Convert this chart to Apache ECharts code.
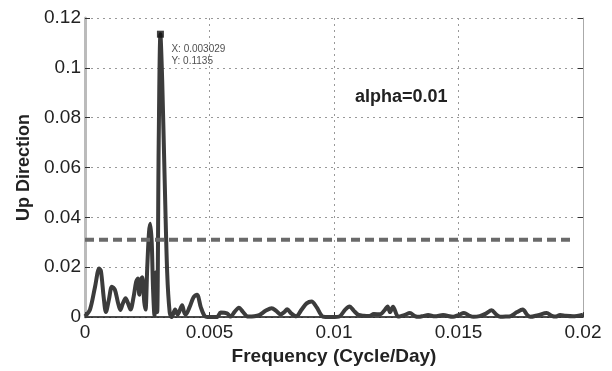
<!DOCTYPE html>
<html>
<head>
<meta charset="utf-8">
<script src="https://cdn.jsdelivr.net/npm/echarts@6/dist/echarts.min.js"></script>
<style>
html,body{margin:0;padding:0;background:#fff;}
#chart{width:612px;height:371px;}
</style>
</head>
<body>
<div id="chart"></div>
<script>
var freq = [0.00000,0.00020,0.00040,0.00057,0.00064,0.00075,0.00084,0.00096,0.00108,0.00120,
0.00132,0.00142,0.00152,0.00163,0.00173,0.00183,0.00195,0.00205,0.00212,0.00218,
0.00224,0.00230,0.00238,0.00243,0.00250,0.00257,0.00262,0.00268,0.00273,0.00279,
0.00285,0.00290,0.00296,0.003029,0.00310,0.00320,0.00330,0.00340,0.00348,0.00362,
0.00372,0.00390,0.00398,0.00404,0.00420,0.00436,0.00450,0.00465,0.00482,0.00500,
0.00530,0.00545,0.00570,0.00585,0.00600,0.00618,0.00635,0.00655,0.00680,0.00700,
0.00725,0.00750,0.00768,0.00785,0.00800,0.00812,0.00828,0.00848,0.00870,0.00890,
0.00910,0.00930,0.00955,0.00980,0.01020,0.01045,0.01062,0.01080,0.01098,0.01120,
0.01140,0.01160,0.01185,0.01205,0.01215,0.01225,0.01237,0.01258,0.01282,0.01305,
0.01325,0.01340,0.01360,0.01378,0.01405,0.01438,0.01478,0.01500,0.01522,0.01545,
0.01560,0.01585,0.01610,0.01633,0.01652,0.01668,0.01690,0.01710,0.01735,0.01758,
0.01775,0.01788,0.01820,0.01854,0.01875,0.01890,0.01908,0.01930,0.01960,0.02000];
var power = [0.0003,0.0030,0.0120,0.0195,0.0185,0.0080,0.0020,0.0070,0.0122,0.0110,
0.0060,0.0028,0.0055,0.0076,0.0055,0.0030,0.0080,0.0140,0.0155,0.0090,
0.0150,0.0160,0.0060,0.0030,0.0200,0.0340,0.0375,0.0300,0.0120,0.0005,
0.0180,0.0020,0.0700,0.1135,0.0950,0.0550,0.0180,0.0020,0.0000,0.0030,
0.0010,0.0048,0.0020,0.0010,0.0040,0.0080,0.0090,0.0040,0.0003,0.0000,
0.0000,0.0018,0.0015,0.0002,0.0020,0.0038,0.0020,0.0002,0.0003,0.0008,
0.0025,0.0036,0.0025,0.0011,0.0020,0.0031,0.0015,0.0003,0.0030,0.0055,
0.0063,0.0040,0.0002,0.0000,0.0002,0.0030,0.0043,0.0025,0.0009,0.0005,
0.0004,0.0012,0.0011,0.0030,0.0043,0.0020,0.0042,0.0002,0.0008,0.0016,
0.0004,0.0001,0.0005,0.0008,0.0003,0.0008,0.0001,0.0008,0.0016,0.0005,
0.0001,0.0004,0.0014,0.0027,0.0010,0.0001,0.0002,0.0004,0.0020,0.0030,
0.0010,0.0001,0.0008,0.0016,0.0005,0.0002,0.0008,0.0005,0.0003,0.0010];
var threshold = 0.031;
var thresholdRange = [0, 0.0196];
var peakX = 0.003029;
var peakY = 0.1135;
var xTickLabels = ['0','0.005','0.01','0.015','0.02'];
var yTickLabels = ['0','0.02','0.04','0.06','0.08','0.1','0.12'];

var curve = freq.map(function(f,i){return [f,power[i]];});
var font = '"Liberation Sans", Arial, Helvetica, sans-serif';
var chart = echarts.init(document.getElementById('chart'));
chart.setOption({
  animation:false,
  backgroundColor:'#fff',
  grid:{left:85,right:29,top:18,bottom:47},
  xAxis:{
    type:'value',min:0,max:0.02,interval:0.005,
    name:'Frequency (Cycle/Day)',nameLocation:'middle',nameGap:22,
    nameTextStyle:{fontFamily:font,fontSize:19,fontWeight:'bold',color:'#222'},
    axisLine:{show:true,onZero:false,lineStyle:{color:'#111',width:1.5}},
    axisTick:{show:true,inside:true,length:5,lineStyle:{color:'#333'}},
    axisLabel:{fontFamily:font,fontSize:19,color:'#222',margin:6,
      formatter:function(v,i){return xTickLabels[i];}},
    splitLine:{show:true,lineStyle:{color:'#999',type:[2,4],width:1}}
  },
  yAxis:[{
    type:'value',min:0,max:0.12,interval:0.02,
    name:'Up Direction',nameLocation:'middle',nameGap:52,
    nameTextStyle:{fontFamily:font,fontSize:18,fontWeight:'bold',color:'#222'},
    axisLine:{show:true,lineStyle:{color:'#bbb',width:3}},
    axisTick:{show:true,inside:true,length:5,lineStyle:{color:'#333'}},
    axisLabel:{fontFamily:font,fontSize:19,color:'#222',margin:4,
      formatter:function(v,i){return yTickLabels[i];}},
    splitLine:{show:true,lineStyle:{color:'#999',type:[2,4],width:1}}
  },{
    type:'value',min:0,max:0.12,interval:0.02,position:'right',
    axisLine:{show:true,lineStyle:{color:'#aaa',width:1}},
    axisTick:{show:true,inside:true,length:5,lineStyle:{color:'#333'}},
    axisLabel:{show:false},splitLine:{show:false}
  }],
  series:[{
    type:'line',data:curve,showSymbol:false,smooth:0.3,
    lineStyle:{color:'#3c3c3c',width:4},z:3
  },{
    type:'line',data:[[thresholdRange[0],threshold],[thresholdRange[1],threshold]],
    showSymbol:false,lineStyle:{color:'#6a6a6a',width:4,type:[9,5]},z:4
  },{
    type:'scatter',data:[[peakX,peakY]],symbol:'rect',symbolSize:7,
    itemStyle:{color:'#111'},z:5,
    label:{show:true,position:[14.5,12.5],fontFamily:font,fontSize:10,lineHeight:12,color:'#222',
      formatter:function(){return 'X: '+peakX+'\nY: '+peakY;}}
  }],
  graphic:[{
    type:'text',left:355,top:88,
    style:{text:'alpha=0.01',font:'bold 18px '+font,fill:'#222'}
  }]
});
</script>
</body>
</html>
